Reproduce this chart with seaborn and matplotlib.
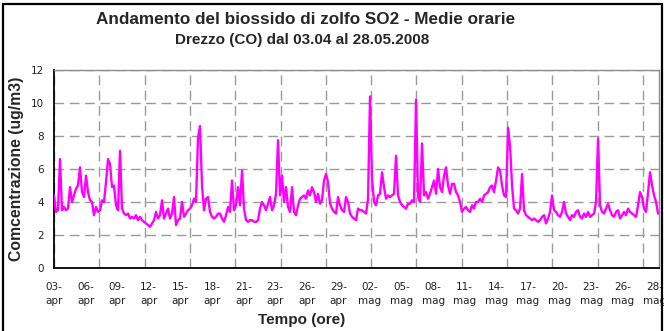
import numpy as np
import pandas as pd
import matplotlib
matplotlib.use("Agg")
import matplotlib.pyplot as plt
from matplotlib.patches import Rectangle
from matplotlib.transforms import blended_transform_factory
import seaborn as sns

# SO2 hourly means, sampled every ~4.45 h (ug/m3)
so2 = [
    4.4, 3.4, 3.5, 6.6, 3.5, 3.7, 3.5, 3.6, 4.9, 4.0,
    4.4, 4.8, 5.0, 6.1, 4.6, 4.3, 5.6, 4.6, 4.1, 4.0,
    3.2, 3.7, 3.4, 3.5, 4.1, 4.0, 5.2, 6.6, 6.3, 4.9,
    5.0, 3.8, 3.5, 7.1, 3.6, 3.3, 3.2, 3.3, 3.0, 3.1,
    3.0, 3.2, 2.9, 3.1, 2.9, 2.8, 2.7, 2.6, 2.5, 2.7,
    2.9, 3.4, 3.0, 3.2, 4.1, 3.0, 3.3, 3.6, 3.0, 3.3,
    4.3, 2.6, 2.9, 3.0, 4.0, 3.1, 3.3, 3.5, 3.6, 3.8,
    4.2, 4.0, 7.9, 8.6, 5.0, 3.5,
    4.2, 4.3, 3.4, 3.1, 3.0, 3.1, 3.3, 3.3, 3.0, 2.8,
    3.2, 3.7, 3.4, 5.3, 3.5, 3.8, 4.9, 3.8, 5.9, 3.6,
    2.9, 2.8, 2.9, 2.9, 2.8, 2.8, 2.9, 3.6, 4.0, 3.8,
    3.5, 3.9, 4.3, 3.5, 3.8, 4.5, 7.75, 4.4, 5.6, 4.0,
    4.9, 3.7, 3.4, 4.9, 3.4, 3.2, 3.8, 4.2, 4.3, 4.4,
    4.2, 4.7, 4.4, 4.9, 4.6, 4.0, 4.5, 3.9, 4.1, 5.3,
    5.7, 5.2, 3.9, 3.6, 3.4, 3.3, 4.3, 3.8, 3.5, 3.4,
    4.3, 4.0, 3.3, 3.1, 3.0,
    2.9, 3.6, 3.5, 3.5, 3.4, 3.3, 4.2, 10.4, 5.4, 4.0,
    3.8, 4.4, 4.5, 5.8, 4.9, 4.2, 4.4, 4.3, 4.4, 4.5,
    6.8, 4.4, 4.0, 3.8, 3.7, 3.6, 3.9, 3.9, 4.1, 4.0,
    10.2, 4.3, 4.0, 7.55, 4.4, 4.6, 4.2, 4.5, 4.9, 5.3,
    4.5, 6.0, 4.9, 4.6, 5.6, 6.1, 5.0, 4.5, 5.1, 5.1,
    4.6, 4.4, 4.0, 3.4, 3.6, 3.7, 3.5, 3.4, 3.8, 3.6,
    4.0, 4.0, 4.2, 4.0, 4.4, 4.5, 4.6, 4.9, 5.0, 4.6,
    5.3, 6.1, 5.9, 5.0, 4.4,
    4.3, 8.5, 7.4, 5.0, 3.6, 3.5, 3.3, 3.6, 5.7, 3.5,
    3.2, 3.1, 3.0, 2.9, 3.0, 2.9, 2.8, 2.9, 3.1, 3.2,
    2.7, 3.0, 3.4, 4.4, 3.5, 3.4, 3.2, 3.1, 3.4, 4.0,
    3.3, 3.1, 2.9, 3.2, 3.1, 3.4, 3.5, 3.1, 3.0, 3.3,
    3.1, 3.4, 3.1, 3.2, 3.3, 4.0, 7.85, 3.8, 3.4, 3.3,
    3.6, 3.9, 3.5, 3.2, 3.1, 3.4, 3.5, 3.0, 3.2, 3.4,
    3.2, 3.6, 3.4, 3.3, 3.2, 3.1, 3.8, 4.6, 4.3, 3.6,
    3.4, 4.6, 5.8, 5.0, 4.4, 4.0, 3.3,
]
sample_hours = 4.45

date_days = ["03-", "06-", "09-", "12-", "15-", "18-", "21-", "23-", "26-",
             "29-", "02-", "05-", "08-", "11-", "14-", "17-", "20-", "23-",
             "26-", "28-"]
date_months = ["apr"] * 10 + ["mag"] * 10
label_step_h = 70.3
grid_step_h = 100.8
x_max_h = 1346

y_ticks = [0, 2, 4, 6, 8, 10, 12]

df = pd.DataFrame({"ore": np.arange(len(so2)) * sample_hours, "SO2": so2})

sns.set_theme(style="white")
plt.rcParams["font.family"] = ["DejaVu Sans"]

fig = plt.figure(figsize=(6.64, 3.31), dpi=100)
ax = fig.add_axes([54 / 664, 1 - 268 / 331, 605 / 664, 198 / 331])

sns.lineplot(data=df, x="ore", y="SO2", ax=ax, color="#FF00FF",
             linewidth=1.7, zorder=3)

ax.set_xlim(0, x_max_h)
ax.set_ylim(0, 12)
ax.set_yticks(y_ticks)
ax.set_yticklabels([str(v) for v in y_ticks], fontsize=7.5, color="#222222")

grid_pos = np.arange(0, x_max_h, grid_step_h)
ax.set_xticks(grid_pos)
ax.set_xticklabels([""] * len(grid_pos))

# date labels along the time axis
trans = blended_transform_factory(ax.transData, ax.transAxes)
for k, (d, m) in enumerate(zip(date_days, date_months)):
    ax.text(k * label_step_h, -0.072, d + "\n" + m, transform=trans,
            ha="center", va="top", fontsize=7.5, color="#222222",
            linespacing=1.5, clip_on=False)

ax.tick_params(axis="x", which="major", direction="out", length=4,
               width=1, color="#333333")
ax.tick_params(axis="y", which="major", direction="out", length=4,
               width=1, color="#333333", pad=3)

ax.grid(True, which="major", axis="both", color="#9a9a9a",
        linestyle=(0, (7, 4)), linewidth=1.0)
ax.set_axisbelow(True)

for side in ("left", "bottom"):
    ax.spines[side].set_color("#000000")
    ax.spines[side].set_linewidth(1.3)
for side in ("top", "right"):
    ax.spines[side].set_color("#8c8c8c")
    ax.spines[side].set_linewidth(1.0)
    ax.spines[side].set_visible(True)

ax.set_xlabel("")
ax.set_ylabel("Comcentrazione (ug/m3)", fontsize=11.3, fontweight="bold",
              family="Liberation Sans", labelpad=5)
fig.text(302 / 664, 1 - 320 / 331, "Tempo (ore)", ha="center", va="center",
         fontsize=11, fontweight="bold", family="Liberation Sans")

fig.text(306 / 664, 1 - 19 / 331,
         "Andamento del biossido di zolfo SO2 - Medie orarie",
         ha="center", va="center", fontsize=12.3, fontweight="bold",
         family="Liberation Sans")
fig.text(302 / 664, 1 - 40 / 331, "Drezzo (CO) dal 03.04 al 28.05.2008",
         ha="center", va="center", fontsize=11, fontweight="bold",
         family="Liberation Sans")

# chart frame
fig.patches.append(Rectangle((3 / 664, -0.05), 659 / 664, 1.05 - 4 / 331,
                             transform=fig.transFigure, fill=False,
                             edgecolor="#000000", linewidth=1.6, zorder=10))

fig.savefig("out.png", dpi=100)
